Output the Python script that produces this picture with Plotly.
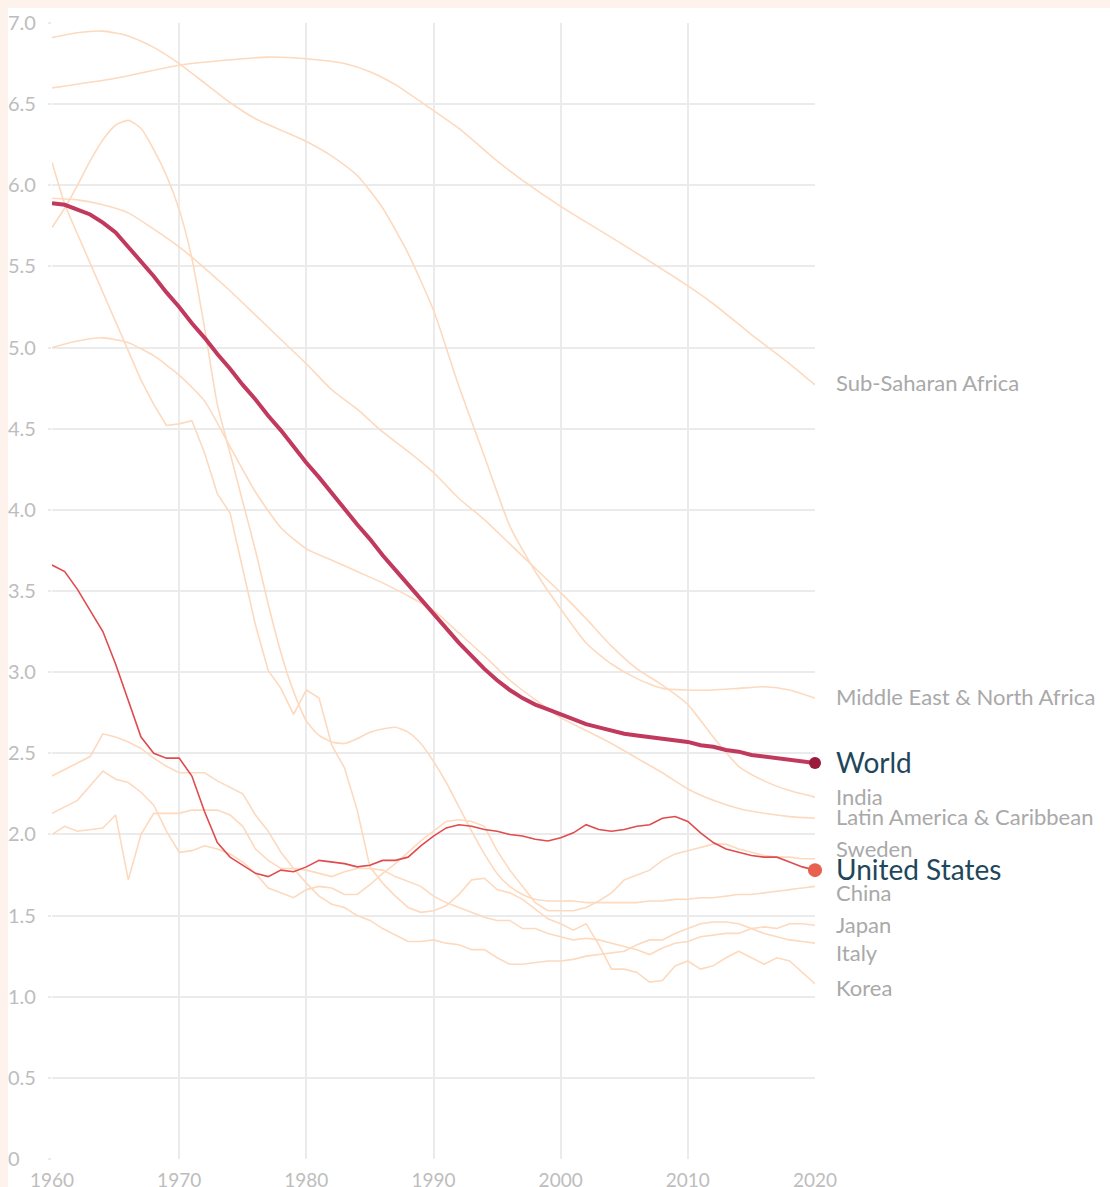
import plotly.graph_objects as go

# ---------------- data ----------------
years = list(range(1960, 2021))

world = [5.89, 5.88, 5.85, 5.82, 5.77, 5.71, 5.62, 5.53, 5.44, 5.34,
         5.25, 5.15, 5.06, 4.96, 4.87, 4.77, 4.68, 4.58, 4.49, 4.39,
         4.29, 4.20, 4.10, 4.01, 3.91, 3.82, 3.72, 3.63, 3.54, 3.45,
         3.36, 3.27, 3.18, 3.10, 3.02, 2.95, 2.89, 2.84, 2.80, 2.77,
         2.74, 2.71, 2.68, 2.66, 2.64, 2.62, 2.61, 2.60, 2.59, 2.58,
         2.57, 2.55, 2.54, 2.52, 2.51, 2.49, 2.48, 2.47, 2.46, 2.45,
         2.44]

united_states = [3.66, 3.62, 3.51, 3.38, 3.25, 3.05, 2.82, 2.60, 2.50, 2.47,
                 2.47, 2.36, 2.14, 1.95, 1.86, 1.81, 1.76, 1.74, 1.78, 1.77,
                 1.80, 1.84, 1.83, 1.82, 1.80, 1.81, 1.84, 1.84, 1.86, 1.93,
                 1.99, 2.04, 2.06, 2.05, 2.03, 2.02, 2.00, 1.99, 1.97, 1.96,
                 1.98, 2.01, 2.06, 2.03, 2.02, 2.03, 2.05, 2.06, 2.10, 2.11,
                 2.08, 2.01, 1.95, 1.91, 1.89, 1.87, 1.86, 1.86, 1.83, 1.80,
                 1.78]

sweden = [2.13, 2.17, 2.21, 2.30, 2.39, 2.34, 2.32, 2.26, 2.18, 2.02,
          1.89, 1.90, 1.93, 1.91, 1.88, 1.83, 1.76, 1.67, 1.64, 1.61,
          1.66, 1.68, 1.67, 1.63, 1.63, 1.69, 1.76, 1.82, 1.89, 1.96,
          2.02, 2.08, 2.09, 2.08, 2.05, 1.90, 1.78, 1.68, 1.58, 1.53,
          1.53, 1.53, 1.55, 1.59, 1.64, 1.72, 1.75, 1.78, 1.84, 1.88,
          1.90, 1.92, 1.94, 1.94, 1.91, 1.89, 1.87, 1.86, 1.86, 1.85,
          1.85]

china = [5.74, 5.86, 6.00, 6.15, 6.28, 6.37, 6.40, 6.35, 6.22, 6.06,
         5.85, 5.55, 5.12, 4.65, 4.35, 4.05, 3.75, 3.42, 3.12, 2.88,
         2.70, 2.61, 2.57, 2.56, 2.59, 2.63, 2.65, 2.66, 2.63, 2.56,
         2.45, 2.32, 2.17, 2.02, 1.88, 1.76, 1.68, 1.63, 1.60, 1.59,
         1.59, 1.59, 1.58, 1.58, 1.58, 1.58, 1.58, 1.59, 1.59, 1.60,
         1.60, 1.61, 1.61, 1.62, 1.63, 1.63, 1.64, 1.65, 1.66, 1.67,
         1.68]

japan = [2.00, 2.05, 2.02, 2.03, 2.04, 2.12, 1.72, 2.00, 2.13, 2.13,
         2.13, 2.15, 2.15, 2.15, 2.12, 2.05, 1.91, 1.84, 1.79, 1.79,
         1.78, 1.76, 1.74, 1.77, 1.79, 1.79, 1.78, 1.74, 1.71, 1.68,
         1.62, 1.58, 1.55, 1.52, 1.49, 1.47, 1.47, 1.42, 1.42, 1.39,
         1.37, 1.35, 1.36, 1.35, 1.33, 1.31, 1.29, 1.26, 1.30, 1.33,
         1.34, 1.37, 1.38, 1.39, 1.39, 1.42, 1.43, 1.42, 1.45, 1.45,
         1.44]

italy = [2.36, 2.40, 2.44, 2.48, 2.62, 2.60, 2.57, 2.53, 2.47, 2.42,
         2.38, 2.38, 2.38, 2.33, 2.29, 2.25, 2.12, 2.02, 1.89, 1.79,
         1.70, 1.62, 1.57, 1.55, 1.50, 1.47, 1.42, 1.38, 1.34, 1.34,
         1.35, 1.33, 1.32, 1.29, 1.29, 1.24, 1.20, 1.20, 1.21, 1.22,
         1.22, 1.23, 1.25, 1.26, 1.27, 1.28, 1.32, 1.35, 1.35, 1.39,
         1.42, 1.45, 1.46, 1.46, 1.45, 1.42, 1.39, 1.37, 1.35, 1.34,
         1.33]

korea = [6.14, 5.88, 5.70, 5.52, 5.33, 5.15, 4.98, 4.80, 4.65, 4.52,
         4.53, 4.55, 4.35, 4.10, 3.98, 3.64, 3.29, 3.01, 2.90, 2.74,
         2.89, 2.84, 2.55, 2.41, 2.15, 1.80, 1.70, 1.62, 1.55, 1.52,
         1.53, 1.56, 1.63, 1.72, 1.73, 1.66, 1.64, 1.60, 1.54, 1.48,
         1.45, 1.41, 1.45, 1.32, 1.17, 1.17, 1.15, 1.09, 1.10, 1.19,
         1.22, 1.17, 1.19, 1.24, 1.28, 1.24, 1.20, 1.24, 1.22, 1.15,
         1.08]

# smoother regional series, read every two to five years
ssa_years = [1960, 1965, 1970, 1975, 1977, 1980, 1983, 1985, 1987, 1990,
             1992, 1995, 1997, 2000, 2005, 2010, 2012, 2015, 2018, 2020]
sub_saharan_africa = [6.60, 6.66, 6.74, 6.78, 6.79, 6.78, 6.75, 6.70, 6.62, 6.46,
                      6.35, 6.15, 6.03, 5.87, 5.63, 5.38, 5.27, 5.08, 4.90, 4.77]

biennial_years = list(range(1960, 2021, 2))
mena = [6.91, 6.94, 6.95, 6.92, 6.85, 6.75, 6.63, 6.51, 6.41, 6.34,
        6.27, 6.18, 6.06, 5.86, 5.58, 5.23, 4.76, 4.33, 3.90, 3.62,
        3.39, 3.18, 3.05, 2.96, 2.90, 2.89, 2.89, 2.90, 2.91, 2.89,
        2.84]
india = [5.92, 5.91, 5.88, 5.83, 5.73, 5.62, 5.49, 5.35, 5.20, 5.05,
         4.90, 4.74, 4.62, 4.48, 4.36, 4.23, 4.07, 3.94, 3.79, 3.64,
         3.49, 3.33, 3.16, 3.02, 2.92, 2.80, 2.60, 2.42, 2.33, 2.27,
         2.23]
latin_america = [5.00, 5.04, 5.06, 5.03, 4.95, 4.83, 4.67, 4.39, 4.11, 3.89,
                 3.76, 3.69, 3.62, 3.55, 3.47, 3.38, 3.24, 3.10, 2.95, 2.83,
                 2.72, 2.64, 2.56, 2.47, 2.38, 2.28, 2.21, 2.16, 2.13, 2.11,
                 2.10]

y_ticks = [0, 0.5, 1.0, 1.5, 2.0, 2.5, 3.0, 3.5, 4.0, 4.5, 5.0, 5.5, 6.0, 6.5, 7.0]
y_tick_text = ["0", "0.5", "1.0", "1.5", "2.0", "2.5", "3.0", "3.5", "4.0",
               "4.5", "5.0", "5.5", "6.0", "6.5", "7.0"]
x_ticks = [1960, 1970, 1980, 1990, 2000, 2010, 2020]

# ---------------- styles ----------------
PEACH = "#fdd9be"
US_RED = "#e04b4e"
WORLD = "#c13a5e"
WORLD_DOT = "#9a1b3b"
US_DOT = "#e8604f"
GRID = "#ebebeb"
LABEL_GREY = "#a9a9a9"
LABEL_DARK = "#1f475b"
TICK_GREY = "#bdbdbd"
BAND = "#fdf3ec"
FONT = "Lato, 'Open Sans', sans-serif"

fig = go.Figure()

# (name, x, y, line shape, label nudge in px: positive = down)
peach_series = [
    ("Sub-Saharan Africa", ssa_years, sub_saharan_africa, "spline", -2),
    ("Middle East & North Africa", biennial_years, mena, "spline", -2),
    ("India", biennial_years, india, "spline", -1),
    ("Latin America & Caribbean", biennial_years, latin_america, "spline", -2),
    ("Sweden", years, sweden, "linear", -10),
    ("China", years, china, "spline", 6),
    ("Japan", years, japan, "linear", -1),
    ("Italy", years, italy, "linear", 9),
    ("Korea", years, korea, "linear", 4),
]

for name, xs, ys, shape, _ in peach_series:
    fig.add_trace(go.Scatter(x=xs, y=ys, mode="lines", name=name,
                             line=dict(color=PEACH, width=1.6, shape=shape,
                                       smoothing=0.6 if shape == "spline" else None),
                             hoverinfo="skip", showlegend=False))

fig.add_trace(go.Scatter(x=years, y=united_states, mode="lines", name="United States",
                         line=dict(color=US_RED, width=1.6), showlegend=False))
fig.add_trace(go.Scatter(x=years, y=world, mode="lines", name="World",
                         line=dict(color=WORLD, width=4), showlegend=False))
fig.add_trace(go.Scatter(x=[years[-1]], y=[united_states[-1]], mode="markers",
                         marker=dict(color=US_DOT, size=14), showlegend=False,
                         hoverinfo="skip", cliponaxis=False))
fig.add_trace(go.Scatter(x=[years[-1]], y=[world[-1]], mode="markers",
                         marker=dict(color=WORLD_DOT, size=12), showlegend=False,
                         hoverinfo="skip", cliponaxis=False))

annotations = []
for name, xs, ys, _, shift in peach_series:
    annotations.append(dict(x=xs[-1], y=ys[-1], xref="x", yref="y", text=name,
                            showarrow=False, xanchor="left", yanchor="middle",
                            xshift=19, yshift=-shift,
                            font=dict(family=FONT, size=22, color=LABEL_GREY)))
for name, ys in [("World", world), ("United States", united_states)]:
    annotations.append(dict(x=years[-1], y=ys[-1], xref="x", yref="y", text=name,
                            showarrow=False, xanchor="left", yanchor="middle",
                            xshift=19, yshift=1,
                            font=dict(family=FONT, size=28, color=LABEL_DARK)))
for v, t in zip(y_ticks, y_tick_text):
    annotations.append(dict(x=0, y=v, xref="paper", yref="y", text=t,
                            showarrow=False, xanchor="left", yanchor="middle",
                            xshift=-46, yshift=1,
                            font=dict(family=FONT, size=20, color=TICK_GREY)))

# the page keeps an 8px peach edge on the top and left, the figure fills the rest
W, H = 1102, 1195
ML, MR, MT, MB = 44, 295, 15, 29

fig.update_layout(
    width=W, height=H,
    margin=dict(l=ML, r=MR, t=MT, b=MB, pad=0),
    paper_bgcolor="white", plot_bgcolor="white",
    font=dict(family=FONT, color=TICK_GREY),
    showlegend=False,
    annotations=annotations,
    xaxis=dict(range=[1960, 2020], tickvals=x_ticks, showgrid=True,
               gridcolor=GRID, gridwidth=2, zeroline=False, showline=False,
               ticks="", ticklabelstandoff=8,
               tickfont=dict(family=FONT, size=19, color=TICK_GREY),
               fixedrange=True),
    yaxis=dict(range=[0, 7], tickvals=y_ticks, showticklabels=False,
               showgrid=True, gridcolor=GRID, gridwidth=1.5, zeroline=False,
               showline=False, ticks="outside", ticklen=3, tickcolor=GRID,
               tickwidth=1.5, fixedrange=True),
)

page_css = (
    "document.body.style.margin='8px 0 0 8px';"
    "document.body.style.background="
    "'linear-gradient(" + BAND + "," + BAND + ") 0 0/100% 9px no-repeat,"
    " linear-gradient(" + BAND + "," + BAND + ") 0 0/8px 100% no-repeat, #ffffff';"
)
fig.write_html("out.html", post_script=page_css)
